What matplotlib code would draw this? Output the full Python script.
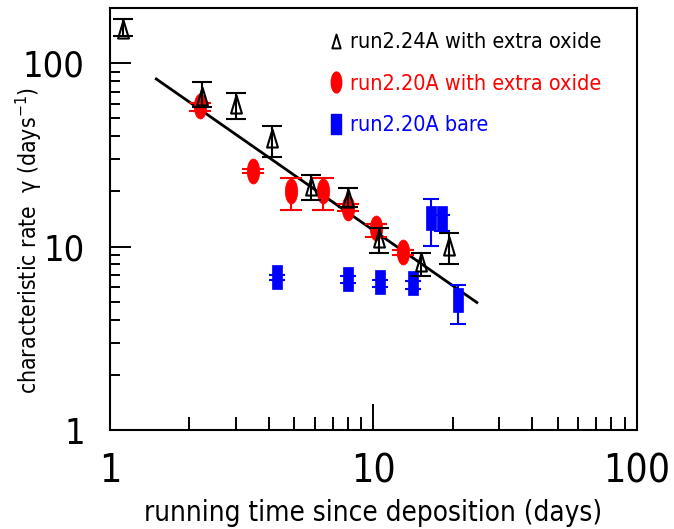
import numpy as np
import matplotlib
matplotlib.use("Agg")
from matplotlib import pyplot as plt
from matplotlib import font_manager
from matplotlib.path import Path
from matplotlib.transforms import Affine2D
from matplotlib.lines import Line2D

# run2.24A with extra oxide (open triangles)
t24_x = [1.12, 2.24, 3.02, 4.12, 5.8, 8.03, 10.5, 15.2, 19.3]
t24_y = [153, 66, 59.8, 39, 21.5, 18.5, 11.2, 8.2, 10.1]
t24_hi = [173, 79, 68.7, 45.5, 24.6, 20.9, 12.7, 9.2, 11.9]
t24_lo = [140, 58, 49.6, 30.8, 18.0, 16.5, 9.25, 6.9, 8.0]

# run2.20A with extra oxide (red ellipses)
ox_x = [2.19, 3.48, 4.86, 6.45, 8.03, 10.2, 12.9]
ox_y = [58.4, 25.9, 20.2, 20.2, 16.3, 12.7, 9.3]
ox_hi = [61, 26.5, 23.7, 23.7, 17.0, 13.3, 9.6]
ox_lo = [55, 25.3, 15.9, 15.9, 15.6, 11.3, 9.0]

# run2.20A bare (blue rectangles)
bare_x = [4.3, 8.03, 10.6, 14.1, 16.6, 18.2, 20.9]
bare_y = [6.8, 6.7, 6.45, 6.3, 14.4, 14.4, 5.09]
bare_hi = [7.0, 6.9, 6.6, 6.5, 18.2, 14.8, 6.2]
bare_lo = [6.6, 6.3, 6.0, 5.9, 10.1, 12.2, 3.77]

# power-law fit line end points
fit_x = [1.5, 24.7]
fit_y = [82, 4.96]

labels = ["run2.24A with extra oxide", "run2.20A with extra oxide", "run2.20A bare"]
colors = ["black", "red", "blue"]

########## pick a narrow font if there is one ##########
names = {f.name for f in font_manager.fontManager.ttflist}
condensed = {f.name for f in font_manager.fontManager.ttflist
             if "condensed" in str(f.stretch).lower() or "narrow" in f.name.lower()}
if "Liberation Sans Narrow" in names:
    FAM, narrow = "Liberation Sans Narrow", True
elif "DejaVu Sans" in condensed:
    FAM, narrow = "DejaVu Sans", True
    plt.rcParams["font.stretch"] = "condensed"
else:
    FAM, narrow = "Liberation Sans", False

plt.rcParams["font.family"] = [FAM, "DejaVu Sans"]
plt.rcParams["mathtext.fontset"] = "custom"
plt.rcParams["mathtext.rm"] = FAM
plt.rcParams["mathtext.it"] = FAM

if narrow:
    fs_xtick, fs_ytick, fs_xlab, fs_ylab, fs_leg = 28, 26, 20, 16.5, 15.5
else:
    fs_xtick, fs_ytick, fs_xlab, fs_ylab, fs_leg = 25, 22, 18, 14, 14

# custom marker shapes
tri = Path([(-0.6, -1), (0.6, -1), (0, 1), (-0.6, -1)],
           [Path.MOVETO, Path.LINETO, Path.LINETO, Path.CLOSEPOLY])
ell = Path.unit_circle().transformed(Affine2D().scale(0.5, 1.0))
rect = Path([(-0.45, -1), (0.45, -1), (0.45, 1), (-0.45, 1), (-0.45, -1)],
            [Path.MOVETO, Path.LINETO, Path.LINETO, Path.LINETO, Path.CLOSEPOLY])


def yerr(y, lo, hi):
    y = np.array(y)
    return [y - np.array(lo), np.array(hi) - y]


fig = plt.figure(figsize=(6.74, 5.29), dpi=100)
ax = fig.add_axes([0.163, 0.187, 0.782, 0.798])

ax.plot(fit_x, fit_y, color="black", lw=2.0, zorder=2)

ax.errorbar(bare_x, bare_y, yerr=yerr(bare_y, bare_lo, bare_hi), fmt="none",
            ecolor="blue", elinewidth=1.5, capsize=6, capthick=1.5, zorder=3)
ax.plot(bare_x, bare_y, ls="none", marker=rect, ms=17, mfc="blue", mec="blue", mew=0.5, zorder=4)

ax.errorbar(ox_x, ox_y, yerr=yerr(ox_y, ox_lo, ox_hi), fmt="none",
            ecolor="red", elinewidth=1.5, capsize=8, capthick=1.5, zorder=3)
ax.plot(ox_x, ox_y, ls="none", marker=ell, ms=18, mfc="red", mec="red", mew=0.5, zorder=4)

ax.errorbar(t24_x, t24_y, yerr=yerr(t24_y, t24_lo, t24_hi), fmt="none",
            ecolor="black", elinewidth=1.5, capsize=7, capthick=1.5, zorder=5)
ax.plot(t24_x, t24_y, ls="none", marker=tri, ms=13, mfc="none", mec="black", mew=1.5, zorder=6)

ax.set_xscale("log")
ax.set_yscale("log")
ax.set_xlim(1, 100)
ax.set_ylim(1, 200)

ax.set_xticks([1, 10, 100])
ax.set_xticklabels(["1", "10", "100"])
ax.set_yticks([1, 10, 100])
ax.set_yticklabels(["1", "10", "100"])

ax.tick_params(axis="x", which="major", direction="in", length=19, width=1.4,
               labelsize=fs_xtick, pad=16, top=False)
ax.tick_params(axis="x", which="minor", direction="in", length=9.5, width=1.4, top=False)
ax.tick_params(axis="y", which="major", direction="in", length=15, width=1.4,
               labelsize=fs_ytick, pad=18, right=False)
ax.tick_params(axis="y", which="minor", direction="in", length=7.5, width=1.4, right=False)
ax.yaxis.set_minor_formatter(matplotlib.ticker.NullFormatter())
ax.xaxis.set_minor_formatter(matplotlib.ticker.NullFormatter())

for s in ax.spines.values():
    s.set_linewidth(1.5)

ax.set_xlabel("running time since deposition (days)", fontsize=fs_xlab, labelpad=6)
ax.set_ylabel(r"characteristic rate  $\gamma$ (days$^{-1}$)", fontsize=fs_ylab)
ax.yaxis.set_label_coords(-0.125, 0.45)

handles = [
    Line2D([], [], ls="none", marker=tri, ms=10, mfc="none", mec="black", mew=1.4),
    Line2D([], [], ls="none", marker=ell, ms=15, mfc="red", mec="red"),
    Line2D([], [], ls="none", marker=rect, ms=15, mfc="blue", mec="blue"),
]
leg = ax.legend(handles, labels, loc="upper right", bbox_to_anchor=(0.962, 0.978),
                frameon=False, fontsize=fs_leg, handlelength=0.6, handletextpad=0.35,
                labelspacing=1.0, borderaxespad=0.3)
for txt, c in zip(leg.get_texts(), colors):
    txt.set_color(c)

fig.savefig("out.png", dpi=100)
